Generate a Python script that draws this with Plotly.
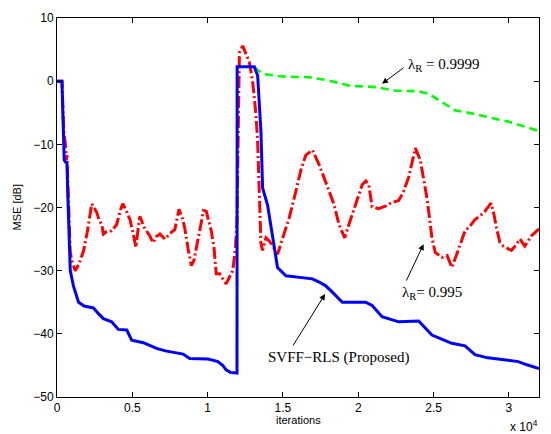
import plotly.graph_objects as go

# ---- data (iterations, MSE dB) ----
blue_x = [0, 330, 400, 480, 560, 660, 730, 800, 880, 1100, 1430, 1800, 2200, 2420, 2750, 3080,
          3630, 4070, 4630, 4960, 5730, 6610, 7200, 7930, 8370, 8810, 10020, 10680, 11000, 11230,
          11500, 11950, 11960, 13100, 13320, 13540, 13650, 13980, 14310, 14640, 15200, 16080,
          16960, 17400, 17840, 18280, 18720, 18940, 20490, 20920, 21580, 22690, 24010, 24400,
          24890, 25500, 26210, 27090, 27750, 28600, 29510, 30620, 31200, 32000]
blue_y = [0, 0, -6, -12.5, -12.8, -13.0, -19, -25, -30, -32.5, -35.0, -35.6, -35.8, -35.9, -36.8,
          -37.6, -38.1, -39.3, -39.4, -41.0, -41.4, -42.3, -42.7, -43.0, -43.2, -43.9, -44.0, -44.4,
          -45.0, -45.7, -46.1, -46.2, 2.3, 2.3, 0.9, -8.0, -16.9, -19.6, -24.8, -29.5, -30.8, -31.0,
          -31.3, -31.8, -32.4, -33.4, -34.5, -35.0, -35.0, -35.5, -37.3, -38.1, -37.97, -39.0,
          -40.2, -40.8, -41.5, -41.9, -43.3, -43.8, -44.1, -44.4, -44.9, -45.5]

red_x = [0, 280, 330, 450, 550, 620, 660, 720, 800, 880, 1000, 1210, 1450, 1760, 2000, 2200, 2310,
         2450, 2640, 2800, 2970, 3080, 3300, 3630, 3960, 4200, 4360, 4600, 4840, 5050, 5240, 5380,
         5500, 5800, 6160, 6380, 6600, 6830, 7160, 7500, 7820, 7950, 8100, 8300, 8480, 8700, 8920,
         9100, 9250, 9500, 9730, 9910, 10240, 10420, 10570, 10800, 11000, 11230, 11450, 11670,
         11850, 11950, 12050, 12110, 12330, 12550, 12770, 12990, 13210, 13320, 13430, 13540,
         13650, 13870, 14090, 14300, 14640, 14970, 15420, 15860, 16200, 16520, 16960, 17400,
         17840, 18390, 18720, 19100, 19380, 19820, 20260, 20500, 20700, 20920, 21360, 21800,
         22240, 22690, 23000, 23350, 23600, 23790, 24120, 24350, 24560, 24750, 24890, 25110,
         25550, 25900, 26210, 26540, 26800, 27090, 27400, 27750, 28100, 28410, 28810, 29000,
         29180, 29400, 29620, 29900, 30170, 30450, 30730, 31060, 31300, 31490, 32000]
red_y = [0, 0, 0, -8, -9.8, -12.5, -11.7, -16, -24, -27.1, -28.5, -30.0, -29.0, -26.9, -24.0, -20.5,
         -19.4, -20.0, -20.8, -22.0, -22.7, -24.2, -23.8, -23.7, -22.7, -20.5, -19.4, -20.5, -21.9,
         -24.0, -26.3, -23.5, -21.4, -23.2, -24.5, -25.6, -24.6, -24.2, -25.0, -24.1, -23.5, -22.0,
         -20.3, -21.5, -23.2, -26.5, -29.2, -28.3, -26.3, -23.0, -20.5, -20.6, -23.7, -26.3, -30.5,
         -30.5, -31.3, -32.1, -31.0, -30.0, -26.3, -22.0, -5.0, 4.5, 5.6, 4.2, 3.0, -0.1, -5.3,
         -9.5, -17.4, -25.7, -26.8, -24.8, -25.3, -26.0, -27.4, -24.8, -21.6, -17.4, -14.0, -11.7,
         -10.9, -13.2, -15.9, -19.5, -22.7, -24.8, -22.7, -19.5, -16.4, -15.8, -16.4, -19.9, -20.2,
         -19.8, -19.2, -18.9, -17.5, -15.2, -12.5, -10.6, -12.5, -15.5, -18.5, -22.0, -24.8, -27.1,
         -27.9, -27.6, -29.5, -27.4, -25.5, -23.7, -23.0, -21.9, -21.3, -20.6, -19.3, -21.0, -23.2,
         -25.5, -26.1, -26.5, -26.8, -26.0, -25.0, -26.1, -25.2, -24.5, -23.4]

green_x = [13100, 13650, 14970, 16740, 18060, 19380, 21150, 22470, 24010, 24670, 25550, 26430,
           27530, 28630, 29950, 31870, 32000]
green_y = [2.2, 1.15, 0.73, 0.63, 0.1, -0.7, -0.94, -1.5, -1.6, -2.0, -3.3, -4.6, -5.1, -5.65,
           -6.4, -7.8, -7.9]

x_tickvals = [0, 5000, 10000, 15000, 20000, 25000, 30000]
x_ticktext = ["0", "0.5", "1", "1.5", "2", "2.5", "3"]
y_tickvals = [-50, -40, -30, -20, -10, 0, 10]
y_ticktext = ["\u221250", "\u221240", "\u221230", "\u221220", "\u221210", "0", "10"]

fig = go.Figure()
fig.add_trace(go.Scatter(x=green_x, y=green_y, mode="lines",
                         line=dict(color="#00FF00", width=2.6, dash="8px,5px")))
fig.add_trace(go.Scatter(x=red_x, y=red_y, mode="lines",
                         line=dict(color="#FF0000", width=3, dash="12px,3px,2px,3px")))
fig.add_trace(go.Scatter(x=blue_x, y=blue_y, mode="lines",
                         line=dict(color="#0000FF", width=3)))

serif = "Liberation Serif, Times New Roman, serif"
sans = "Liberation Sans, Arial, sans-serif"

fig.update_layout(
    width=551, height=434,
    margin=dict(l=57, r=11, t=15, b=37),
    paper_bgcolor="white", plot_bgcolor="white",
    showlegend=False,
    font=dict(family=sans, size=12, color="black"),
    xaxis=dict(range=[0, 32000], tickvals=x_tickvals, ticktext=x_ticktext,
               ticks="inside", ticklen=5, tickcolor="black", showgrid=False, zeroline=False,
               showline=True, linecolor="black", linewidth=1, mirror="ticks",
               tickfont=dict(size=12, family=sans)),
    yaxis=dict(range=[-50, 10], tickvals=y_tickvals, ticktext=y_ticktext,
               ticks="inside", ticklen=5, tickcolor="black", showgrid=False, zeroline=False,
               showline=True, linecolor="black", linewidth=1, mirror="ticks",
               tickfont=dict(size=12, family=sans)),
)

arrow_style = dict(showarrow=True, arrowhead=2, arrowsize=1.2, arrowwidth=1, arrowcolor="black")
annots = [
    # axis titles
    dict(text="MSE [dB]", xref="paper", yref="paper", x=-0.083, y=0.5, textangle=-90,
         showarrow=False, font=dict(size=11, family=sans), xanchor="center", yanchor="middle"),
    dict(text="iterations", xref="paper", yref="paper", x=0.5, y=-0.061, showarrow=False,
         font=dict(size=11, family=sans), xanchor="center", yanchor="middle", borderpad=0),
    dict(text="x 10<sup>4</sup>", xref="paper", yref="paper", x=1.0, y=-0.077, showarrow=False,
         font=dict(size=12, family=sans), xanchor="right", yanchor="middle", borderpad=0),
    # labels
    dict(text="\u03bb<sub>R</sub> = 0.9999", x=25660, y=2.5, showarrow=False,
         font=dict(size=15, family=serif)),
    dict(text="\u03bb<sub>R</sub>= 0.995", x=24880, y=-33.5, showarrow=False,
         font=dict(size=15, family=serif)),
    dict(text="SVFF\u2212RLS (Proposed)", x=18720, y=-43.8, showarrow=False,
         font=dict(size=15, family=serif)),
    # arrows
    dict(text="", x=21580, y=-0.4, ax=23, ay=-17, **arrow_style),
    dict(text="", x=24340, y=-25.8, ax=-18, ay=38, **arrow_style),
    dict(text="", x=17800, y=-33.7, ax=-33, ay=53, **arrow_style),
]
fig.update_layout(annotations=annots)

fig.write_html("out.html", config={"displayModeBar": False},
               post_script="document.body.style.margin='0';document.body.style.overflow='hidden';")
